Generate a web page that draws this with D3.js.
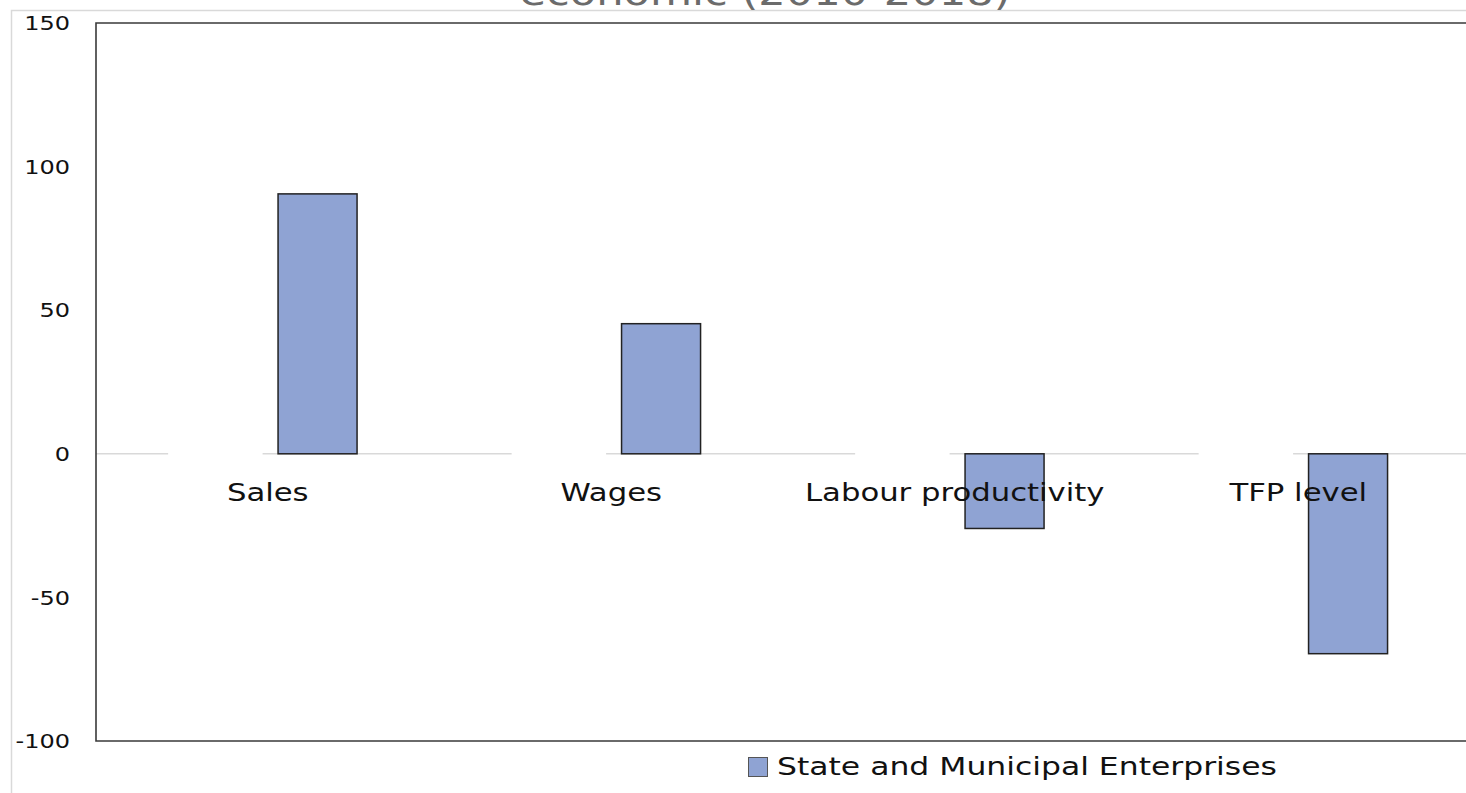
<!DOCTYPE html>
<html>
<head>
<meta charset="utf-8">
<script src="https://cdn.jsdelivr.net/npm/d3@7"></script>
<style>
  html, body { margin: 0; padding: 0; background: #fff; }
  svg { display: block; }
  text { font-family: "DejaVu Sans", Verdana, sans-serif; }
</style>
</head>
<body>
<svg id="chart" width="1466" height="793"></svg>
<script>
// ---- data ----
const categories = ["Sales", "Wages", "Labour productivity", "TFP level"];
const seriesName = "State and Municipal Enterprises";
const values = [90.5, 45.3, -26, -69.6];
const yTicks = [150, 100, 50, 0, -50, -100];
const titleText = "economic (2010-2018)";

// ---- layout ----
const W = 1466, H = 793;
const svg = d3.select("#chart");
const plot = { left: 96, right: 1470, top: 23, bottom: 741 };
const SX = 1.2; // horizontal stretch of the reference's text

const x = d3.scaleBand().domain(categories).range([plot.left, plot.right]).padding(0);
const y = d3.scaleLinear().domain([-100, 150]).range([plot.bottom, plot.top]);

// outer light frame
svg.append("rect")
  .attr("x", 11.5).attr("y", 10.5).attr("width", W + 10).attr("height", H + 10)
  .attr("fill", "none").attr("stroke", "#d9d9d9").attr("stroke-width", 1.5);

// cut-off title
svg.append("text")
  .attr("transform", `translate(765,5) scale(${SX},1)`)
  .attr("text-anchor", "middle")
  .attr("font-family", "'Open Sans', sans-serif")
  .attr("font-size", 36)
  .attr("fill", "#6b6b6b")
  .text(titleText);

// zero line segments (interrupted before each category centre, as in reference)
const bw = x.bandwidth();
const gapL = bw * 0.29, gapR = bw * 0.015;
const segs = [];
let start = plot.left;
categories.forEach(c => {
  const cx = x(c) + bw / 2;
  segs.push([start, cx - gapL]);
  start = cx - gapR;
});
segs.push([start, W]);
svg.append("g").selectAll("line").data(segs).join("line")
  .attr("x1", d => d[0]).attr("x2", d => d[1])
  .attr("y1", y(0)).attr("y2", y(0))
  .attr("stroke", "#d9d9d9").attr("stroke-width", 1.5);

// bars
const barW = bw * 0.23;
const barOff = bw * 0.03;
svg.append("g").selectAll("rect").data(categories).join("rect")
  .attr("x", c => x(c) + bw / 2 + barOff)
  .attr("width", barW)
  .attr("y", (c, i) => y(Math.max(0, values[i])))
  .attr("height", (c, i) => Math.abs(y(values[i]) - y(0)))
  .attr("fill", "#8fa3d3")
  .attr("stroke", "#222").attr("stroke-width", 1.5);

// plot frame (left, top, bottom)
svg.append("path")
  .attr("d", `M${W + 5},${plot.top}H${plot.left}V${plot.bottom}H${W + 5}`)
  .attr("fill", "none").attr("stroke", "#3a3a3a").attr("stroke-width", 1.6);

// y axis labels
const yAxis = d3.axisLeft(y).tickValues(yTicks).tickSize(0).tickPadding(0).tickFormat(d => String(d));
const ga = svg.append("g").attr("transform", `translate(70,0)`).call(yAxis);
ga.select(".domain").remove();
ga.selectAll("text")
  .attr("x", null).attr("dy", null)
  .attr("dominant-baseline", "central")
  .attr("font-size", 20)
  .attr("fill", "#111")
  .attr("font-family", "'DejaVu Sans', Verdana, sans-serif")
  .attr("transform", `scale(${SX},1)`)
  .attr("text-anchor", "end");
ga.selectAll(".tick").attr("transform", d => `translate(0,${y(d)})`);

// category labels (drawn over bars)
svg.append("g").selectAll("text").data(categories).join("text")
  .attr("transform", c => `translate(${x(c) + bw / 2},501) scale(1.28,1)`)
  .attr("text-anchor", "middle")
  .attr("font-size", 24)
  .attr("fill", "#111")
  .text(c => c);

// legend
const lg = svg.append("g").attr("transform", "translate(748,757)");
lg.append("rect").attr("x", 0.5).attr("y", 0.5).attr("width", 19).attr("height", 19)
  .attr("fill", "#8fa3d3").attr("stroke", "#555").attr("stroke-width", 1);
lg.append("text")
  .attr("transform", `translate(29,18) scale(1.31,1)`)
  .attr("font-size", 24)
  .attr("fill", "#111")
  .text(seriesName);
</script>
</body>
</html>
